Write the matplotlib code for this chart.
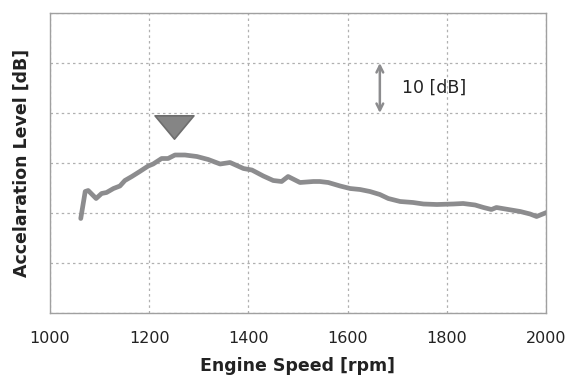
import matplotlib
matplotlib.use("Agg")
import matplotlib.pyplot as plt
from matplotlib.path import Path

# Engine speed sweep [rpm] and acceleration level [dB]
rpm = [1062, 1071, 1077, 1093, 1104, 1114, 1128, 1141, 1151, 1165, 1181, 1198,
       1208, 1225, 1238, 1252, 1272, 1296, 1319, 1343, 1363, 1390, 1407, 1430,
       1450, 1467, 1480, 1504, 1531, 1544, 1561, 1585, 1605, 1625, 1645, 1665,
       1682, 1706, 1732, 1753, 1780, 1813, 1833, 1857, 1874, 1890, 1900, 1924,
       1948, 1968, 1981, 2001]
level = [18.9, 24.3, 24.5, 22.9, 23.9, 24.1, 24.9, 25.4, 26.5, 27.3, 28.3, 29.4,
         29.8, 30.9, 30.9, 31.6, 31.6, 31.3, 30.7, 29.8, 30.1, 28.9, 28.6, 27.4,
         26.5, 26.3, 27.3, 26.1, 26.3, 26.3, 26.1, 25.4, 24.9, 24.7, 24.3, 23.7,
         22.9, 22.3, 22.1, 21.8, 21.7, 21.8, 21.9, 21.6, 21.1, 20.7, 21.1, 20.7,
         20.3, 19.8, 19.3, 20.1]

x_ticks = [1000, 1200, 1400, 1600, 1800, 2000]
y_grid = [0, 10, 20, 30, 40, 50, 60]

peak_rpm, peak_mark = 1250, 37.3
scale_rpm, scale_lo, scale_hi = 1665, 40, 50
scale_label = "10 [dB]"

fig = plt.figure(figsize=(5.72, 3.79), dpi=100)
ax = fig.add_axes([50 / 572, 66 / 379, 496 / 572, 300 / 379])

ax.plot(rpm, level, color="#8c8c8e", lw=3.4, solid_capstyle="round",
        solid_joinstyle="round", zorder=3)

# flattened down-pointing triangle for the peak marker
tri = Path([(-1, 0.6), (1, 0.6), (0, -0.6), (-1, 0.6)],
           [Path.MOVETO, Path.LINETO, Path.LINETO, Path.CLOSEPOLY])
ax.plot([peak_rpm], [peak_mark], marker=tri, markersize=28,
        markerfacecolor="#858585", markeredgecolor="#6e6e6e",
        markeredgewidth=1.2, linestyle="none", zorder=4)

# 10 dB scale arrow
ax.annotate("", xy=(scale_rpm, scale_hi), xytext=(scale_rpm, scale_lo),
            arrowprops=dict(arrowstyle="<->", color="#8c8c8e", lw=1.8,
                            mutation_scale=12, shrinkA=0, shrinkB=0))
ax.text(scale_rpm + 44, (scale_lo + scale_hi) / 2, scale_label,
        fontsize=12.5, color="#222222", va="center", ha="left")

ax.set_xlim(1000, 2000)
ax.set_ylim(0, 60)
ax.set_xticks(x_ticks)
ax.set_xticklabels([str(t) for t in x_ticks])
ax.set_yticks(y_grid)
ax.set_yticklabels([])
ax.tick_params(length=0, labelsize=11.5, pad=13, labelcolor="#222222")
ax.grid(True, color="#b0b0b0", linestyle=(0, (2, 2.5)), lw=0.9)
ax.set_axisbelow(True)
for s in ax.spines.values():
    s.set_color("#a0a0a0")
    s.set_linewidth(1.0)

ax.set_xlabel("Engine Speed [rpm]", fontsize=12.5, fontweight="bold",
              color="#222222", labelpad=8)
ax.set_ylabel("Accelaration Level [dB]", fontsize=12.5, fontweight="bold",
              color="#222222", labelpad=0.5)

fig.savefig("out.png", dpi=100)
